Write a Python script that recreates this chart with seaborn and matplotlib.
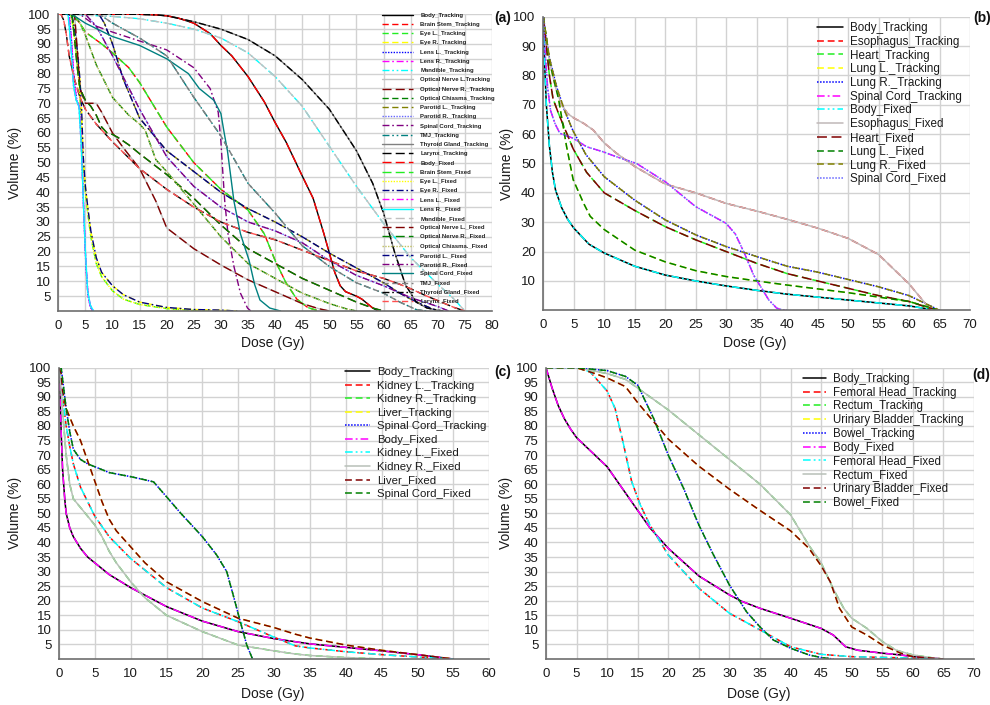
import numpy as np
import matplotlib
matplotlib.use("Agg")
import matplotlib.pyplot as plt
import seaborn as sns

# ---------------- Panel (a): head & neck ----------------
A_BODY_D = [0, 15, 18, 20, 22, 25, 28, 30, 32, 35, 38, 40, 42, 45, 47, 48, 49, 50, 51, 52, 53, 55, 56, 57, 58, 59]
A_BODY_V = [100, 100, 99.8, 99.5, 98.8, 97, 93.5, 89.5, 86, 79, 70.5, 63.5, 57, 45.5, 38, 32, 26, 19.5, 13, 8.5, 6.5, 5, 4, 2.5, 1, 0]
A_BRAINSTEM_D = [0, 2.5, 3, 4, 5, 8, 10, 13, 15, 18, 20, 25, 30, 35, 38, 40, 42, 44, 46, 48]
A_BRAINSTEM_V = [100, 100, 99, 97, 94, 90, 87, 82, 77, 68, 62, 50, 41, 34, 26, 17, 9.5, 4, 1.2, 0]
A_EYEL_D = [0, 2.3, 2.8, 3.3, 3.8, 4.2, 4.5, 5, 5.5, 6, 7, 8, 10, 12, 15, 20, 25, 28]
A_EYEL_V = [100, 100, 95, 87, 77, 66, 52, 40, 32, 25, 16, 11.5, 6.8, 4, 2.2, 0.8, 0.2, 0]
A_EYER_D = [0, 2.5, 3, 3.5, 4, 4.3, 4.6, 5, 5.5, 6, 7, 8, 10, 12, 15, 20, 25, 30, 33]
A_EYER_V = [100, 100, 95, 88, 78, 68, 52, 42, 34, 27, 18, 13, 8.5, 5.5, 3, 1.2, 0.5, 0.3, 0]
A_LENSL_D = [0, 2.0, 2.4, 2.9, 3.4, 3.9, 4.3, 4.7, 5.1, 5.5, 5.9, 6.3]
A_LENSL_V = [100, 100, 92, 78, 71, 69, 55, 33, 15, 5, 1.5, 0]
A_LENSR_D = [0, 1.8, 2.3, 2.8, 3.3, 3.8, 4.2, 4.6, 5.0, 5.4, 5.9, 6.5]
A_LENSR_V = [100, 100, 90, 76, 71, 69, 57, 38, 20, 7, 2, 0]
A_MANDIBLE_D = [0, 3, 5, 10, 15, 20, 25, 30, 35, 40, 45, 50, 55, 60, 65, 70, 73, 75]
A_MANDIBLE_V = [100, 100, 99.7, 99.3, 98.5, 97, 95, 92, 87, 79, 69, 55.5, 42, 29.5, 18, 9, 4, 0]
A_ONL_D = [0, 3, 3.5, 4, 5, 6, 7, 8, 10, 12, 15, 18, 20, 25, 30, 35, 40, 45, 48, 50]
A_ONL_V = [100, 100, 88, 75, 70, 70, 70, 67, 60, 55, 48, 37, 28, 21, 15.5, 10.5, 6.5, 2.5, 0.8, 0]
A_ONR_D = [0, 2.5, 3, 3.5, 4, 5, 6, 7, 8, 9, 10, 11, 13, 15, 20, 25, 30, 35, 40, 45, 50, 55, 58, 60]
A_ONR_V = [100, 100, 92, 82, 75, 71, 69, 66, 62, 60, 59.5, 58.5, 56, 53, 46, 38, 29, 21, 16, 11, 7, 3, 1, 0]
A_CHIASMA_D = [0, 3, 4, 5, 7, 10, 13, 15, 16, 17, 18, 20, 25, 30, 35, 40, 45, 50, 53, 55]
A_CHIASMA_V = [100, 100, 97, 93, 83, 72, 66, 63, 61, 56, 51, 47, 36, 25, 16, 11, 6, 2.5, 0.8, 0]
A_PAROTIDL_D = [0, 7.5, 8.5, 10, 12, 15, 20, 25, 30, 35, 40, 45, 50, 55, 60, 63, 65, 68, 70]
A_PAROTIDL_V = [100, 100, 97, 90, 78, 65, 54, 47, 40, 34.5, 30, 25, 19.5, 14.5, 9.5, 6, 4, 1.5, 0]
A_PAROTIDR_D = [0, 5, 7, 10, 15, 20, 25, 30, 35, 40, 45, 50, 55, 60, 65, 70, 72]
A_PAROTIDR_V = [100, 100, 96, 86, 68, 52, 42, 35, 30, 27, 23, 17, 12, 8.5, 4.5, 1.5, 0]
A_SC_TRACK_D = [0, 4, 7, 10, 15, 20, 25, 28, 29.5, 30, 30.3, 30.7, 31.3, 32.4, 33.6, 34.9, 35.5]
A_SC_TRACK_V = [100, 100, 96, 94, 91, 88, 82, 75, 67, 57, 48, 37, 26, 15, 6, 1, 0]
A_SC_FIXED_D = [0, 2.5, 5, 10, 15, 20, 24, 26, 28.7, 30, 30.6, 31.2, 32.4, 33.6, 35.2, 36.2, 37.2, 39, 41]
A_SC_FIXED_V = [100, 100, 97, 92.5, 89.5, 85, 80, 75, 71, 66.5, 60, 54, 37, 26, 17, 9, 3.7, 1, 0]
A_TMJ_D = [0, 7, 8, 10, 15, 20, 25, 30, 35, 40, 45, 50, 55, 60, 63, 66, 68]
A_TMJ_V = [100, 100, 99.5, 97, 92, 86, 72, 59, 43, 33, 22, 15, 9.5, 6, 3, 0.5, 0]
A_THYROID_D = [0, 15, 18, 20, 25, 30, 35, 40, 45, 50, 55, 58, 60, 62, 64, 66, 68, 70, 71]
A_THYROID_V = [100, 100, 99.8, 99.5, 97.5, 95, 91.5, 86, 78, 68, 54, 43, 33, 20, 9, 3, 1, 0.3, 0]
A_LARYNX_D = [0, 0.5, 1, 1.5, 2, 3, 4, 5, 7, 10, 15, 20, 25, 30, 35, 40, 45, 50, 55, 60, 63, 65, 68, 70, 73, 75]
A_LARYNX_V = [100, 100, 98, 93, 86, 78, 72, 68, 63, 57, 48, 41, 35, 30, 26.5, 24, 20.5, 17, 13.5, 11, 9, 7.5, 5, 3.5, 1.2, 0]
A_TRACK_LABELS = ["Body_Tracking", "Brain Stem_Tracking", "Eye L._Tracking", "Eye R._Tracking",
                  "Lens L._Tracking", "Lens R._Tracking", "Mandible_Tracking",
                  "Optical Nerve L.Tracking", "Optical Nerve R._Tracking", "Optical Chiasma_Tracking",
                  "Parotid L._Tracking", "Parotid R._Tracking", "Spinal Cord_Tracking",
                  "TMJ_Tracking", "Thyroid Gland_Tracking", "Larynx_Tracking"]
A_FIXED_LABELS = ["Body_Fixed", "Brain Stem_Fixed", "Eye L._Fixed", "Eye R._Fixed", "Lens L._Fixed",
                  "Lens R._Fixed", "Mandible_Fixed", "Optical Nerve L._Fixed", "Optical Nerve R._Fixed",
                  "Optical Chiasma._Fixed", "Parotid L._Fixed", "Parotid R._Fixed",
                  "Spinal Cord_Fixed", "TMJ_Fixed", "Thyroid Gland_Fixed", "Larynx_Fixed"]

# ---------------- Panel (b): thorax ----------------
B_BODY_D = [0, 0.2, 0.5, 1, 1.5, 2, 3, 4, 5, 7.5, 10, 15, 20, 25, 30, 35, 40, 45, 50, 55, 60, 63, 65]
B_BODY_V = [100, 85, 70, 56, 47, 41, 35, 31, 28, 22.5, 19.5, 15, 12, 10, 8.3, 6.8, 5.5, 4.5, 3.5, 2.5, 1.5, 0.5, 0]
B_ESOPH_D = [0, 0.5, 1, 2, 3, 4, 5, 6.6, 8.2, 10, 12, 15, 17, 20, 25, 30, 35, 40, 45, 50, 55, 57, 60, 62, 63, 64]
B_ESOPH_V = [100, 92, 85, 76, 70, 67, 65.5, 63.7, 61.4, 57, 53.5, 49, 46.6, 43, 40, 36.4, 33.8, 31, 28, 24.5, 19, 15, 9, 4, 1.5, 0]
B_HEART_D = [0, 0.5, 1, 1.6, 2.5, 3.3, 4.9, 7.1, 10, 15, 20, 25, 30, 35, 40, 45, 50, 55, 60, 63, 65]
B_HEART_V = [100, 90, 80, 72, 67, 63, 55, 47, 40, 34, 28.5, 24, 20, 16, 12.5, 10, 7.5, 5, 3, 1, 0]
B_LUNGL_D = [0, 0.5, 1, 1.8, 2.5, 3.8, 4.9, 6.6, 7.7, 10, 15, 20, 25, 30, 35, 40, 45, 50, 55, 60, 63, 65]
B_LUNGL_V = [100, 93, 85, 78, 72, 56, 44.5, 36.5, 32, 27.5, 20.5, 16.5, 13.5, 11.5, 10, 8.6, 7.3, 6, 4.5, 3, 1.2, 0]
B_LUNGR_D = [0, 0.5, 1, 2.2, 3.5, 4.9, 7, 10, 15, 20, 25, 30, 35, 40, 45, 50, 55, 60, 63, 65]
B_LUNGR_V = [100, 93, 86, 76, 68, 61, 53, 45.5, 37.5, 30.8, 25.7, 21.7, 18.3, 15, 13, 10.5, 8, 5, 2, 0]
B_SC_D = [0, 0.3, 0.7, 1.2, 1.9, 2.7, 4.9, 7.1, 9.8, 12, 15.3, 20, 25, 30, 31.5, 33, 34.5, 36, 37, 38.3, 39.3, 40]
B_SC_V = [100, 88, 76, 68, 63.7, 60.3, 58.6, 55.7, 54, 52.3, 50, 43.8, 35.3, 29.6, 26, 19.4, 12, 6.9, 3.5, 0.7, 0.1, 0]
B_LABELS = ["Body_Tracking", "Esophagus_Tracking", "Heart_Tracking", "Lung L._Tracking",
            "Lung R._Tracking", "Spinal Cord_Tracking", "Body_Fixed", "Esophagus_Fixed",
            "Heart_Fixed", "Lung L._Fixed", "Lung R._Fixed", "Spinal Cord_Fixed"]

# ---------------- Panel (c): abdomen ----------------
C_BODY_D = [0, 0.15, 0.3, 0.5, 0.8, 1, 1.5, 2, 3, 4, 5, 7, 10, 15, 20, 25, 30, 35, 40, 45, 50, 55]
C_BODY_V = [100, 90, 78, 65, 55, 50, 45, 42, 38, 35, 33, 29, 24.5, 18, 13, 9.4, 7, 5.2, 4, 2.8, 1.5, 0]
C_KIDL_D = [0, 0.3, 0.5, 1, 1.5, 2, 3, 4, 5, 7, 10, 15, 20, 25, 30, 33, 35, 40, 45, 50, 55]
C_KIDL_V = [100, 95, 90, 80, 73, 67, 59, 54, 49, 42, 34.5, 24.5, 17.5, 12.8, 7.5, 4.5, 3.8, 2.5, 1.5, 0.7, 0]
C_KIDR_D = [0, 0.3, 0.5, 1, 1.5, 2, 3, 4, 5, 6, 7, 8, 10, 12, 15, 20, 25, 30, 33, 35, 40, 45]
C_KIDR_V = [100, 93, 85, 70, 60, 55, 52, 49, 46, 42, 37, 33, 26.5, 21, 15, 9.4, 4.8, 2.8, 1.7, 1.2, 0.5, 0]
C_LIVER_D = [0, 0.3, 0.5, 1, 2, 3, 4, 5, 6, 7, 8, 10, 12, 15, 20, 25, 30, 33, 35, 40, 45, 50, 55]
C_LIVER_V = [100, 98, 92, 86, 80, 75, 68, 61, 54, 48, 44, 38.5, 33, 26.5, 19.7, 14, 10.8, 8.5, 7.2, 4.8, 3, 1.5, 0]
C_SC_D = [0, 0.3, 0.5, 1, 1.5, 2, 3, 4, 5, 7, 10, 12, 13.2, 15, 17, 20, 22, 23.4, 24.3, 25.3, 26.2, 27]
C_SC_V = [100, 100, 96, 86, 78, 72, 68.5, 67, 66, 64, 62.6, 61.5, 60.8, 55.7, 50, 42, 35.7, 30, 22, 12.8, 4.8, 0]
C_LABELS = ["Body_Tracking", "Kidney L._Tracking", "Kidney R._Tracking", "Liver_Tracking",
            "Spinal Cord_Tracking", "Body_Fixed", "Kidney L._Fixed", "Kidney R._Fixed",
            "Liver_Fixed", "Spinal Cord_Fixed"]

# ---------------- Panel (d): pelvis ----------------
D_BODY_D = [0, 1, 2, 3, 4, 5, 7, 8, 10, 12, 15, 17, 20, 25, 30, 32, 35, 40, 45, 47, 49, 51, 55, 58, 60, 65]
D_BODY_V = [100, 93, 87, 82.5, 79, 76, 72, 70, 66, 60, 51, 45, 38, 28.5, 22, 19.8, 17.4, 14, 10.5, 8.2, 4.2, 3, 2, 1.4, 0.8, 0]
D_FEM_D = [0, 5, 7.2, 10, 11.3, 12.7, 14, 15.4, 17, 20, 25, 30, 35, 40, 45, 50, 60, 65]
D_FEM_V = [100, 100, 98.6, 92, 86, 73.5, 61, 53, 46, 35.7, 24.3, 15.7, 10, 4.2, 1.6, 0.8, 0.3, 0]
D_RECT_D = [0, 5, 10, 13, 15, 20, 25, 30, 35, 40, 43, 45, 47, 48.7, 50, 52.5, 55, 57.3, 60, 63.5, 65]
D_RECT_V = [100, 100, 98, 96, 93, 85.5, 77, 68.5, 60, 49.5, 39, 33, 24, 17.4, 14, 10.5, 6, 3, 1.4, 0.3, 0]
D_BLAD_D = [0, 5, 8, 10, 13, 15, 17, 20, 25, 30, 35, 40, 43, 45, 46.5, 48, 50, 52.5, 55, 58, 60, 65]
D_BLAD_V = [100, 100, 98, 96.5, 93.5, 88, 83, 75.5, 66.2, 58.3, 51, 44, 38, 32, 26.5, 17.4, 11, 8.2, 4.8, 2, 0.8, 0]
D_BOWEL_D = [0, 5, 10, 13, 15, 17.6, 20, 22.5, 25, 27.4, 30, 32.8, 35, 37.2, 40, 43, 45, 47]
D_BOWEL_V = [100, 100, 99, 97, 94, 82.6, 70, 58.6, 46, 35.7, 25.4, 16.2, 11, 6.5, 3.7, 1.4, 0.5, 0]
D_LABELS = ["Body_Tracking", "Femoral Head_Tracking", "Rectum_Tracking", "Urinary Bladder_Tracking",
            "Bowel_Tracking", "Body_Fixed", "Femoral Head_Fixed", "Rectum_Fixed",
            "Urinary Bladder_Fixed", "Bowel_Fixed"]

# ---------------- styles ----------------
SOLID = "-"
DASH = (0, (4.5, 2.5))
LDASH = (0, (6.5, 3))
DOT = (0, (1, 1))
DASHDOT = (0, (5, 2, 1.2, 2))
DDD = (0, (5, 2, 1.2, 2, 1.2, 2))

A_STYLES = [("#000000", SOLID), ("#ff0000", DASH), ("#22ee22", DASH), ("#ffff00", DASH),
            ("#0000ff", DOT), ("#ff00ff", DASHDOT), ("#00ffff", DDD), ("#c0c0c0", SOLID),
            ("#800000", LDASH), ("#008000", DASH), ("#808000", DASH), ("#6666ff", DOT),
            ("#800080", DASHDOT), ("#008080", DDD), ("#808080", SOLID), ("#000000", LDASH),
            ("#ff0000", LDASH), ("#22ee22", LDASH), ("#ffff00", DOT), ("#000080", DASHDOT),
            ("#ff00ff", DASHDOT), ("#00ffff", SOLID), ("#c0c0c0", LDASH), ("#800000", LDASH),
            ("#008000", LDASH), ("#c0c060", DOT), ("#000080", DASHDOT), ("#800080", DASHDOT),
            ("#008080", SOLID), ("#808080", DASH), ("#000000", DASHDOT), ("#ff5050", DASH)]
B_STYLES = [("#000000", SOLID), ("#ff0000", DASH), ("#22ee22", DASH), ("#ffff00", DASH),
            ("#0000ff", DOT), ("#ff00ff", DASHDOT), ("#00ffff", DDD), ("#c0b8b8", SOLID),
            ("#800000", LDASH), ("#008000", DASH), ("#808000", DASH), ("#6666ff", DOT)]
CD_STYLES = [("#000000", SOLID), ("#ff0000", DASH), ("#22ee22", DASH), ("#ffff00", DASH),
             ("#0000ff", DOT), ("#ff00ff", DASHDOT), ("#00ffff", DDD), ("#b8c0b8", SOLID),
             ("#800000", DASH), ("#008000", DASH)]

sns.set_theme(style="whitegrid")
plt.rcParams["font.family"] = ["Liberation Sans", "DejaVu Sans"]

W, H = 990, 705
fig = plt.figure(figsize=(9.9, 7.05), dpi=100)


def px_axes(x0, x1, ytop, ybot):
    return fig.add_axes([x0 / W, 1 - ybot / H, (x1 - x0) / W, (ybot - ytop) / H])


def draw(ax, curves, styles, lw=1.1):
    handles = []
    for (d, v), (c, ls) in zip(curves, styles):
        sns.lineplot(x=d, y=v, ax=ax, color=c, linestyle=ls, linewidth=lw,
                     estimator=None, sort=False, legend=False)
        handles.append(ax.lines[-1])
    return handles


def setup(ax, xmax, yticks, x0px, x1px, ytop, ybot, ylab_x, xlab_x, xlab_y):
    ax.set_xlim(0, xmax)
    ax.set_ylim(0, 100)
    ax.set_xticks(np.arange(0, xmax + 1, 5))
    ax.set_yticks(yticks)
    ax.grid(True, color="#d2d2d2", lw=1.0)
    for s in ["top", "right"]:
        ax.spines[s].set_visible(False)
    for s in ["left", "bottom"]:
        ax.spines[s].set_color("#6e6e6e")
        ax.spines[s].set_linewidth(1.2)
    ax.tick_params(axis="both", length=3, width=1, color="#6e6e6e", labelsize=9.5,
                   labelcolor="#1a1a1a")
    ax.tick_params(axis="x", pad=3.5)
    ax.tick_params(axis="y", pad=2.5)
    ax.set_xlabel("Dose (Gy)", fontsize=10, color="#1a1a1a")
    ax.set_ylabel("Volume (%)", fontsize=10, color="#1a1a1a")
    wpx = x1px - x0px
    hpx = ybot - ytop
    ax.xaxis.set_label_coords((xlab_x - x0px) / wpx, (ybot - xlab_y) / hpx)
    ax.xaxis.label.set_va("center")
    ax.yaxis.set_label_coords((ylab_x - x0px) / wpx, 0.5)
    ax.yaxis.label.set_va("center")


# ---- (a)
axA = px_axes(58.3, 492, 14.3, 311)
a_curves = [(A_BODY_D, A_BODY_V), (A_BRAINSTEM_D, A_BRAINSTEM_V), (A_EYEL_D, A_EYEL_V),
            (A_EYER_D, A_EYER_V), (A_LENSL_D, A_LENSL_V), (A_LENSR_D, A_LENSR_V),
            (A_MANDIBLE_D, A_MANDIBLE_V), (A_ONL_D, A_ONL_V), (A_ONR_D, A_ONR_V),
            (A_CHIASMA_D, A_CHIASMA_V), (A_PAROTIDL_D, A_PAROTIDL_V), (A_PAROTIDR_D, A_PAROTIDR_V),
            (A_SC_TRACK_D, A_SC_TRACK_V), (A_TMJ_D, A_TMJ_V), (A_THYROID_D, A_THYROID_V),
            (A_LARYNX_D, A_LARYNX_V)]
a_fixed = list(a_curves)
a_fixed[12] = (A_SC_FIXED_D, A_SC_FIXED_V)
hA = draw(axA, a_curves + a_fixed, A_STYLES, lw=1.0)
setup(axA, 80, np.arange(5, 101, 5), 58.3, 492, 14.3, 311, 15, 273, 343)
fig.legend(hA, A_TRACK_LABELS + A_FIXED_LABELS, loc="upper left",
           bbox_to_anchor=(382 / W, 1 - 12.5 / H), bbox_transform=fig.transFigure,
           frameon=False, borderpad=0, borderaxespad=0,
           prop={"weight": "bold", "size": 4.3}, labelspacing=0.68, handlelength=5.2,
           handletextpad=1.2, labelcolor="#222222")

# ---- (b)
axB = px_axes(543.3, 970, 16.7, 310.3)
b_curves = [(B_BODY_D, B_BODY_V), (B_ESOPH_D, B_ESOPH_V), (B_HEART_D, B_HEART_V),
            (B_LUNGL_D, B_LUNGL_V), (B_LUNGR_D, B_LUNGR_V), (B_SC_D, B_SC_V)]
hB = draw(axB, b_curves + b_curves, B_STYLES)
setup(axB, 70, np.arange(10, 101, 10), 543.3, 970, 16.7, 310.3, 507, 755, 343)
fig.legend(hB, B_LABELS, loc="upper left", bbox_to_anchor=(817 / W, 1 - 22.0 / H),
           bbox_transform=fig.transFigure, frameon=False, borderpad=0, borderaxespad=0,
           fontsize=8.4, labelspacing=0.15, handlelength=2.2, handletextpad=0.6,
           labelcolor="#1a1a1a")

# ---- (c)
axC = px_axes(59, 489, 367.7, 659)
c_curves = [(C_BODY_D, C_BODY_V), (C_KIDL_D, C_KIDL_V), (C_KIDR_D, C_KIDR_V),
            (C_LIVER_D, C_LIVER_V), (C_SC_D, C_SC_V)]
hC = draw(axC, c_curves + c_curves, CD_STYLES)
setup(axC, 60, np.arange(5, 101, 5), 59, 489, 367.7, 659, 15, 273, 694)
fig.legend(hC, C_LABELS, loc="upper left", bbox_to_anchor=(345 / W, 1 - 367.3 / H),
           bbox_transform=fig.transFigure, frameon=False, borderpad=0, borderaxespad=0,
           fontsize=8.2, labelspacing=0.31, handlelength=2.2, handletextpad=0.6,
           labelcolor="#1a1a1a")

# ---- (d)
axD = px_axes(546, 974, 367.7, 659)
d_curves = [(D_BODY_D, D_BODY_V), (D_FEM_D, D_FEM_V), (D_RECT_D, D_RECT_V),
            (D_BLAD_D, D_BLAD_V), (D_BOWEL_D, D_BOWEL_V)]
hD = draw(axD, d_curves + d_curves, CD_STYLES)
setup(axD, 70, np.arange(5, 101, 5), 546, 974, 367.7, 659, 506, 759, 694)
fig.legend(hD, D_LABELS, loc="upper left", bbox_to_anchor=(803 / W, 1 - 373.0 / H),
           bbox_transform=fig.transFigure, frameon=False, borderpad=0, borderaxespad=0,
           fontsize=8.3, labelspacing=0.15, handlelength=2.0, handletextpad=0.6,
           labelcolor="#1a1a1a")

# panel tags
for txt, xp, yp in [("(a)", 494, 18), ("(b)", 973, 18), ("(c)", 494, 372), ("(d)", 972, 375)]:
    fig.text(xp / W, 1 - yp / H, txt, fontsize=10, fontweight="bold", va="center",
             ha="left", color="#111111")

fig.savefig("out.png", dpi=100)
